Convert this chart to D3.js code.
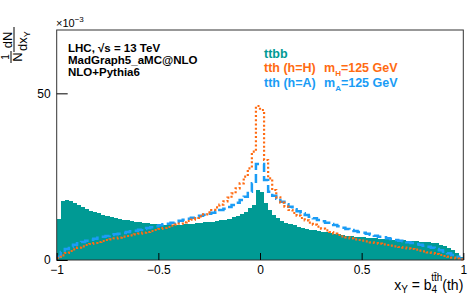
<!DOCTYPE html>
<html>
<head>
<meta charset="utf-8">
<script src="https://cdn.jsdelivr.net/npm/d3@7"></script>
<style>
  body { margin: 0; background: #fff; }
  svg { display: block; font-family: "Liberation Sans", Arial, sans-serif; }
</style>
</head>
<body>
<svg id="chart" width="473" height="300"></svg>
<script>
// histogram: 100 bins from -1 to 1, values in units of 1e-3
const xLo = -1, xHi = 1, nBins = 100;

const ttbb = [
  12.2, 17.7, 18.0, 17.6, 17.0, 16.4, 15.9, 15.4, 14.8, 14.4,
  14.0, 13.6, 13.3, 13.0, 12.7, 12.4, 12.1, 11.9, 11.6, 11.4,
  11.3, 11.1, 11.0, 10.9, 10.8, 10.7, 10.6, 10.6, 10.5, 10.5,
  10.6, 10.7, 10.8, 10.9, 11.1, 11.2, 11.3, 11.4, 11.5, 11.7,
  11.9, 12.1, 12.4, 12.8, 13.2, 13.8, 14.5, 15.5, 16.5, 21.0,
  20.5, 17.0, 15.0, 13.5, 12.5, 11.8, 11.2, 10.8, 10.4, 10.0,
  9.7, 9.4, 9.1, 8.9, 8.7, 8.5, 8.3, 8.1, 7.9, 7.7,
  7.5, 7.3, 7.1, 7.0, 6.9, 6.8, 6.7, 6.6, 6.5, 6.4,
  6.3, 6.2, 6.1, 6.0, 6.0, 5.9, 5.8, 5.7, 5.6, 5.5,
  5.4, 5.3, 5.1, 5.0, 4.6, 4.2, 3.6, 3.0, 2.2, 1.0
];

const tthH = [
  0.6, 1.4, 2.1, 2.7, 3.2, 3.7, 4.1, 4.5, 4.8, 5.1,
  5.4, 5.7, 6.0, 6.2, 6.5, 6.7, 7.0, 7.2, 7.4, 7.7,
  7.9, 8.2, 8.4, 8.7, 9.0, 9.3, 9.6, 9.9, 10.3, 10.6,
  10.9, 11.3, 11.7, 12.1, 12.6, 13.1, 13.7, 14.3, 15.0, 15.8,
  16.6, 17.6, 18.7, 20.0, 21.5, 23.0, 25.0, 27.5, 32.5, 46.2,
  45.0, 30.0, 24.5, 21.0, 18.8, 17.2, 16.0, 15.0, 14.1, 13.3,
  12.6, 11.9, 11.2, 10.6, 10.0, 9.4, 8.9, 8.4, 7.9, 7.5,
  7.1, 6.8, 6.5, 6.2, 6.0, 5.8, 5.6, 5.3, 5.1, 4.9,
  4.7, 4.5, 4.3, 4.1, 3.9, 3.7, 3.5, 3.3, 3.1, 2.8,
  2.6, 2.3, 2.1, 1.8, 1.5, 1.2, 1.0, 0.7, 0.4, 0.2
];

const tthA = [
  1.0, 2.4, 3.3, 4.0, 4.6, 5.0, 5.4, 5.8, 6.1, 6.4,
  6.7, 7.0, 7.2, 7.5, 7.7, 7.9, 8.1, 8.4, 8.6, 8.8,
  9.1, 9.3, 9.6, 9.8, 10.1, 10.4, 10.7, 10.9, 11.2, 11.5,
  11.8, 12.1, 12.4, 12.7, 13.0, 13.3, 13.6, 13.9, 14.2, 14.6,
  15.0, 15.4, 15.9, 16.5, 17.2, 18.0, 19.0, 20.5, 23.0, 28.8,
  28.8, 24.0, 20.5, 19.3, 18.4, 17.5, 16.7, 16.0, 15.2, 14.6,
  14.0, 13.5, 13.0, 12.5, 12.0, 11.6, 11.2, 10.8, 10.5, 10.1,
  9.7, 9.3, 9.0, 8.7, 8.4, 8.2, 7.9, 7.6, 7.3, 7.0,
  6.8, 6.5, 6.3, 6.0, 5.8, 5.6, 5.3, 5.1, 4.8, 4.6,
  4.3, 4.0, 3.7, 3.3, 2.9, 2.5, 2.0, 1.5, 1.0, 0.4
];

const xTicks = [-1, -0.5, 0, 0.5, 1];
const xTickLabels = ["\u22121", "\u22120.5", "0", "0.5", "1"];
const yTicks = [0, 50];

const teal = "#009a94", orange = "#ff6b12", blue = "#1a9cf5";

const svg = d3.select("#chart");
const mLeft = 56.7, mRight = 463.3, mTop = 30, mBottom = 260;

const x = d3.scaleLinear().domain([xLo, xHi]).range([mLeft, mRight]);
const y = d3.scaleLinear().domain([0, 69]).range([mBottom, mTop]);
const binW = (xHi - xLo) / nBins;

// bin low edges + value, closing point at the upper edge
function steps(vals) {
  let pts = vals.map(function (v, i) { return [xLo + i * binW, v]; });
  pts.push([xHi, vals[vals.length - 1]]);
  return pts;
}

const area = d3.area()
  .curve(d3.curveStepAfter)
  .x(function (d) { return x(d[0]); })
  .y0(y(0))
  .y1(function (d) { return y(d[1]); });
const line = d3.line()
  .curve(d3.curveStepAfter)
  .x(function (d) { return x(d[0]); })
  .y(function (d) { return y(d[1]); });

svg.append("path")
  .datum(steps(ttbb))
  .attr("fill", teal)
  .attr("shape-rendering", "crispEdges")
  .attr("d", area);

svg.append("path")
  .datum(steps(tthA))
  .attr("fill", "none")
  .attr("stroke", blue)
  .attr("stroke-width", 2.5)
  .attr("stroke-dasharray", "9,4")
  .attr("d", line);

svg.append("path")
  .datum(steps(tthH))
  .attr("fill", "none")
  .attr("stroke", orange)
  .attr("stroke-width", 2.2)
  .attr("stroke-dasharray", "2,2.2")
  .attr("d", line);

// frame
svg.append("rect")
  .attr("x", mLeft).attr("y", mTop)
  .attr("width", mRight - mLeft).attr("height", mBottom - mTop)
  .attr("fill", "none").attr("stroke", "#333").attr("stroke-width", 1);

// axes
const xAxis = svg.append("g")
  .attr("transform", "translate(0," + mBottom + ")")
  .call(d3.axisBottom(x).tickValues(xTicks).tickSize(-7).tickPadding(4)
    .tickFormat(function (d, i) { return xTickLabels[i]; }));
xAxis.select(".domain").remove();
xAxis.selectAll("line").attr("stroke", "#000");
xAxis.selectAll("text")
  .attr("y", 5).attr("dy", "0.71em")
  .style("font-family", "Liberation Sans, Arial, sans-serif")
  .style("font-size", "12px").attr("fill", "#000");

const yAxis = svg.append("g")
  .attr("transform", "translate(" + mLeft + ",0)")
  .call(d3.axisLeft(y).tickValues(yTicks).tickSize(-11).tickPadding(6));
yAxis.select(".domain").remove();
yAxis.selectAll("line").attr("stroke", "#000");
yAxis.selectAll("text")
  .style("font-family", "Liberation Sans, Arial, sans-serif")
  .style("font-size", "12px").attr("fill", "#000");

// exponent
const ex = svg.append("text").attr("x", 56).attr("y", 27)
  .style("font-size", "11px");
ex.append("tspan").text("\u00d710");
ex.append("tspan").attr("dy", -5).style("font-size", "8px").text("\u22123");

// y title (rotated fractions)
const yt = svg.append("g").attr("transform", "translate(2,0) rotate(-90)")
  .style("font-size", "13px");
yt.append("text").attr("x", -57).attr("y", 7).attr("text-anchor", "middle")
  .style("font-size", "10px").text("1");
yt.append("line").attr("x1", -63).attr("x2", -51).attr("y1", 9).attr("y2", 9)
  .attr("stroke", "#000").attr("stroke-width", 1);
yt.append("text").attr("x", -57).attr("y", 20).attr("text-anchor", "middle").text("N");
yt.append("text").attr("x", -40).attr("y", 10).attr("text-anchor", "middle").text("dN");
yt.append("line").attr("x1", -52).attr("x2", -27).attr("y1", 12).attr("y2", 12)
  .attr("stroke", "#000").attr("stroke-width", 1);
const dx = yt.append("text").attr("x", -41).attr("y", 25).attr("text-anchor", "middle");
dx.append("tspan").text("dx");
dx.append("tspan").attr("dy", 3).style("font-size", "9px").text("Y");

// x title
const xt = svg.append("text").attr("x", mRight).attr("y", 290)
  .attr("text-anchor", "end").style("font-size", "14px");
xt.append("tspan").text("x");
xt.append("tspan").attr("dy", 3).style("font-size", "10px").text("Y");
xt.append("tspan").attr("dy", -3).text(" = b");
xt.append("tspan").attr("dy", 3).style("font-size", "10px").text("4");
xt.append("tspan").attr("dx", -6).attr("dy", -12).style("font-size", "10px").text("tt\u0304h");
xt.append("tspan").attr("dy", 9).text("(th)");

// info text
const info = ["LHC, \u221as = 13 TeV", "MadGraph5_aMC@NLO", "NLO+Pythia6"];
info.forEach(function (t, i) {
  svg.append("text").attr("x", 68).attr("y", 52 + i * 12)
    .style("font-size", "11.5px").style("font-weight", "bold").text(t);
});

// legend
svg.append("text").attr("x", 264).attr("y", 58)
  .style("font-size", "12.5px").style("font-weight", "bold")
  .attr("fill", teal).text("ttbb");
const legRows = [
  { lab: "tth (h=H)", sub: "H", col: orange, yy: 72 },
  { lab: "tth (h=A)", sub: "A", col: blue, yy: 87 }
];
legRows.forEach(function (r) {
  const t = svg.append("text").attr("x", 264).attr("y", r.yy)
    .style("font-size", "12.5px").style("font-weight", "bold").attr("fill", r.col);
  t.append("tspan").text(r.lab);
  t.append("tspan").attr("x", 324).text("m");
  t.append("tspan").attr("dy", 4).style("font-size", "8px").text(r.sub);
  t.append("tspan").attr("dy", -4).text("=125 GeV");
});
</script>
</body>
</html>
